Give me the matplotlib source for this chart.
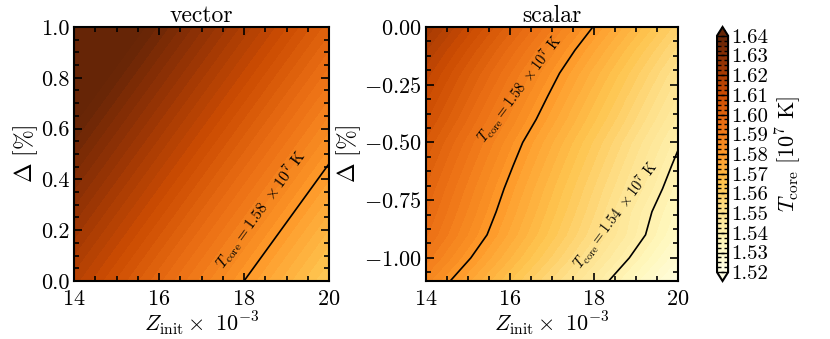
import numpy as np
import matplotlib
matplotlib.use("Agg")
import matplotlib.pyplot as plt
from matplotlib.ticker import AutoMinorLocator, FormatStrFormatter, FuncFormatter

plt.rcParams['font.family'] = 'serif'
plt.rcParams['font.serif'] = ['cmr10']
plt.rcParams['mathtext.fontset'] = 'cm'
plt.rcParams['axes.formatter.use_mathtext'] = True
plt.rcParams['axes.unicode_minus'] = True

# grille Z_init (x 1e-3)
z_init = [14, 15, 16, 17, 18, 19, 20]

# panel "vector": Delta de 0 a 1 %
delta_vec = [0.0, 0.25, 0.5, 0.75, 1.0]
tcore_vec = [
    [1.61600, 1.60700, 1.59800, 1.58900, 1.58000, 1.57100, 1.56200],
    [1.62575, 1.61675, 1.60775, 1.59875, 1.58975, 1.58075, 1.57175],
    [1.63550, 1.62650, 1.61750, 1.60850, 1.59950, 1.59050, 1.58150],
    [1.64525, 1.63625, 1.62725, 1.61825, 1.60925, 1.60025, 1.59125],
    [1.65500, 1.64600, 1.63700, 1.62800, 1.61900, 1.61000, 1.60100],
]

# panel "scalar": Delta de -1.1 a 0 %
delta_sca = [-1.1, -1.0, -0.9, -0.8, -0.7, -0.6, -0.5, -0.4, -0.3, -0.2, -0.1, 0.0]
tcore_sca = [
    [1.5861, 1.5755, 1.5649, 1.5543, 1.5437, 1.5331, 1.5225],
    [1.5913, 1.5807, 1.5701, 1.5595, 1.5489, 1.5383, 1.5277],
    [1.5954, 1.5848, 1.5742, 1.5636, 1.5530, 1.5424, 1.5318],
    [1.5977, 1.5871, 1.5765, 1.5659, 1.5553, 1.5436, 1.5341],
    [1.5997, 1.5891, 1.5785, 1.5679, 1.5573, 1.5467, 1.5361],
    [1.6020, 1.5914, 1.5808, 1.5702, 1.5596, 1.5490, 1.5384],
    [1.6044, 1.5938, 1.5832, 1.5726, 1.5620, 1.5514, 1.5408],
    [1.6078, 1.5972, 1.5866, 1.5760, 1.5654, 1.5548, 1.5442],
    [1.6107, 1.6001, 1.5895, 1.5789, 1.5683, 1.5577, 1.5471],
    [1.6137, 1.6031, 1.5925, 1.5819, 1.5713, 1.5607, 1.5501],
    [1.6176, 1.6070, 1.5964, 1.5858, 1.5752, 1.5646, 1.5540],
    [1.6221, 1.6115, 1.6009, 1.5903, 1.5797, 1.5691, 1.5585],
]

niveles = np.linspace(1.52, 1.64, 49)
cb_ticks = [1.52, 1.53, 1.54, 1.55, 1.56, 1.57, 1.58, 1.59, 1.60, 1.61, 1.62, 1.63, 1.64]

fig = plt.figure(figsize=(8.3, 3.39), dpi=100)
ax1 = fig.add_axes([0.0892, 0.1711, 0.3072, 0.7493])
ax2 = fig.add_axes([0.5133, 0.1711, 0.3036, 0.7493])
cax = fig.add_axes([0.8639, 0.1711, 0.0133, 0.7493])


def estilo(ax):
    ax.tick_params(which='both', direction='in', top=True, right=True, labelsize=16, width=1.2)
    ax.tick_params(which='major', length=6)
    ax.tick_params(which='minor', length=3.5)
    ax.tick_params(axis='x', pad=6)
    ax.tick_params(axis='y', pad=3)
    ax.xaxis.set_minor_locator(AutoMinorLocator(4))
    ax.yaxis.set_minor_locator(AutoMinorLocator(4))
    for s in ax.spines.values():
        s.set_linewidth(1.5)
    ax.set_xticks([14, 16, 18, 20])
    ax.set_xlabel(r'$Z_{\rm init}\times\ 10^{-3}$', fontsize=16, labelpad=0)
    ax.set_ylabel(r'$\Delta\ [\%]$', fontsize=17, labelpad=1)


# vector
cf = ax1.contourf(z_init, delta_vec, tcore_vec, levels=niveles, cmap='YlOrBr', extend='both')
ax1.contour(z_init, delta_vec, tcore_vec, levels=[1.58], colors='k', linewidths=1.2)
ax1.set_xlim(14, 20)
ax1.set_ylim(0, 1)
ax1.set_yticks([0.0, 0.2, 0.4, 0.6, 0.8, 1.0])
ax1.yaxis.set_major_formatter(FormatStrFormatter('%.1f'))
ax1.set_title('vector', fontsize=17, pad=3)
estilo(ax1)
ax1.text(17.62, 0.03, r'$T_{\rm core} = 1.58\ \times 10^7$ K', rotation=54,
         rotation_mode='anchor', fontsize=11.5, ha='left', va='bottom')

# scalar
ax2.contourf(z_init, delta_sca, tcore_sca, levels=niveles, cmap='YlOrBr', extend='both')
ax2.contour(z_init, delta_sca, tcore_sca, levels=[1.54, 1.58], colors='k', linewidths=1.2)
ax2.set_xlim(14, 20)
ax2.set_ylim(-1.1, 0)
ax2.set_yticks([-1.0, -0.75, -0.5, -0.25, 0.0])
ax2.yaxis.set_major_formatter(FuncFormatter(lambda v, p: r'$%.2f$' % v))
ax2.set_title('scalar', fontsize=17, pad=3)
estilo(ax2)
ax2.text(15.5, -0.52, r'$T_{\rm core} = 1.58\ \times 10^7$ K', rotation=53,
         rotation_mode='anchor', fontsize=10.5, ha='left', va='bottom')
ax2.text(17.79, -1.065, r'$T_{\rm core} = 1.54\ \times 10^7$ K', rotation=53,
         rotation_mode='anchor', fontsize=10.5, ha='left', va='bottom')

# barra de color
cb = fig.colorbar(cf, cax=cax, ticks=cb_ticks, extendfrac=0.037)
cb.ax.yaxis.set_major_formatter(FormatStrFormatter('%.2f'))
cb.ax.yaxis.set_minor_locator(AutoMinorLocator(4))
cb.ax.tick_params(which='both', direction='in', left=True, right=True, labelsize=15, width=1.0, pad=2)
cb.ax.tick_params(which='major', length=5)
cb.ax.tick_params(which='minor', length=3)
cb.outline.set_linewidth(1.5)
cb.set_label(r'$T_{\rm core}\ [10^7\ {\rm K}]$', fontsize=16, labelpad=4)

plt.savefig('out.png', dpi=100)
